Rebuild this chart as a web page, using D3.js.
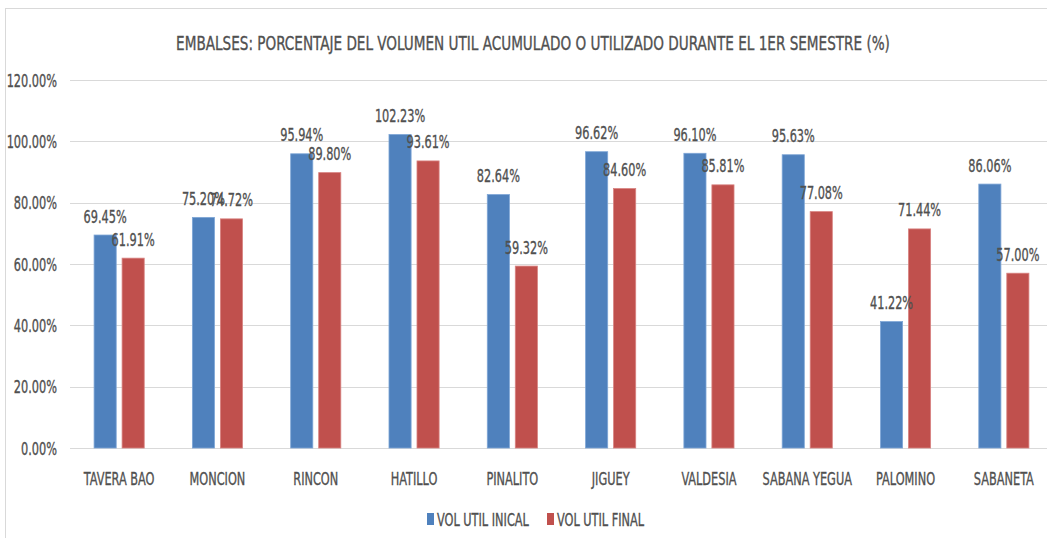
<!DOCTYPE html>
<html lang="en">
<head>
    <meta charset="UTF-8">
    <title>Embalses - volumen util</title>
    <script src="https://d3js.org/d3.v7.min.js"></script>
    <style>
        body { margin: 0; background: #fff; }
        text {
            font-family: "Liberation Sans Narrow", "DejaVu Sans Condensed", "Liberation Sans", sans-serif;
            fill: #505050; stroke: #505050; stroke-width: 0.35px;
        }
    </style>
</head>
<body>
    <svg id="chart" width="1047" height="538"></svg>

    <script>
        // Data
        const categories = ["TAVERA BAO", "MONCION", "RINCON", "HATILLO", "PINALITO",
            "JIGUEY", "VALDESIA", "SABANA YEGUA", "PALOMINO", "SABANETA"];
        const volInicial = [69.45, 75.20, 95.94, 102.23, 82.64, 96.62, 96.10, 95.63, 41.22, 86.06];
        const volFinal = [61.91, 74.72, 89.80, 93.61, 59.32, 84.60, 85.81, 77.08, 71.44, 57.00];
        const seriesNames = ["VOL UTIL INICAL", "VOL UTIL FINAL"];
        const colors = ["#4f81bd", "#c0504d"];
        const yTicks = [0, 20, 40, 60, 80, 100, 120];

        const svg = d3.select("#chart");
        const sx = 0.70; // text is drawn horizontally squeezed

        // frame
        svg.append("rect")
            .attr("x", 5.5).attr("y", 8.5)
            .attr("width", 1060).attr("height", 540)
            .attr("fill", "none").attr("stroke", "#d9d9d9");

        const plot = { left: 70, right: 1053, top: 80, bottom: 448 };

        const y = d3.scaleLinear().domain([0, 120]).range([plot.bottom, plot.top]);
        const x0 = d3.scaleBand().domain(categories)
            .range([plot.left, plot.right]).paddingInner(0.49).paddingOuter(0.245);
        const x1 = d3.scaleBand().domain([0, 1])
            .range([0, x0.bandwidth()]).paddingInner(0.21).paddingOuter(0);

        function squeezedText(g, tx, ty, str, size, anchor, scale) {
            return g.append("text")
                .attr("transform", "translate(" + tx + "," + ty + ") scale(" + (scale || sx) + ",1)")
                .attr("text-anchor", anchor)
                .attr("font-size", size)
                .text(str);
        }

        // gridlines
        svg.append("g").selectAll("line")
            .data(yTicks)
            .enter().append("line")
            .attr("x1", plot.left).attr("x2", plot.right)
            .attr("y1", d => Math.round(y(d)) + 0.5).attr("y2", d => Math.round(y(d)) + 0.5)
            .attr("stroke", "#d9d9d9").attr("stroke-width", 1.2);

        // y tick labels
        const yLab = svg.append("g");
        yTicks.forEach(t => {
            squeezedText(yLab, 57, y(t) + 6.5, d3.format(".2f")(t) + "%", 18, "end");
        });

        // bars
        const series = [volInicial, volFinal];
        const groups = svg.append("g").selectAll("g")
            .data(categories)
            .enter().append("g")
            .attr("transform", d => "translate(" + x0(d) + ",0)");

        groups.selectAll("rect")
            .data((d, i) => series.map((s, k) => ({ k: k, v: s[i] })))
            .enter().append("rect")
            .attr("x", d => x1(d.k))
            .attr("y", d => y(d.v))
            .attr("width", x1.bandwidth())
            .attr("height", d => y(0) - y(d.v))
            .attr("fill", d => colors[d.k])
            .attr("stroke", d => d.k === 0 ? "#7ea6d6" : "#d88381")
            .attr("stroke-width", 0.8);

        // data labels
        groups.each(function (c, i) {
            const g = d3.select(this);
            series.forEach((s, k) => {
                squeezedText(g, x1(k) + x1.bandwidth() / 2, y(s[i]) - 12.5,
                    d3.format(".2f")(s[i]) + "%", 18.5, "middle", 0.68);
            });
        });

        // category labels
        const xLab = svg.append("g");
        categories.forEach(c => {
            squeezedText(xLab, x0(c) + x0.bandwidth() / 2, 485, c, 18, "middle");
        });

        // title
        squeezedText(svg, 533, 49.5, "EMBALSES: PORCENTAJE DEL VOLUMEN UTIL ACUMULADO O UTILIZADO DURANTE EL 1ER SEMESTRE (%)", 20, "middle", 0.755);

        // legend
        const legend = svg.append("g");
        const legendX = [427, 547];
        seriesNames.forEach((n, k) => {
            legend.append("rect")
                .attr("x", legendX[k]).attr("y", 513)
                .attr("width", 7).attr("height", 12)
                .attr("fill", colors[k]);
            squeezedText(legend, legendX[k] + 10, 525.5, n, 18, "start");
        });
    </script>
</body>
</html>
